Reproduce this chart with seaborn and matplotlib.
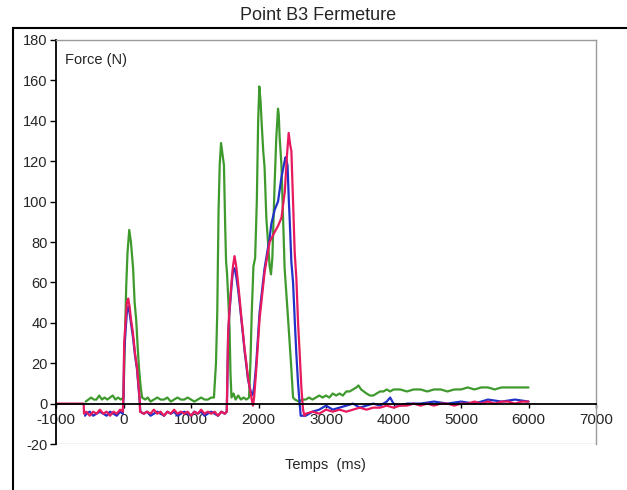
import numpy as np
import pandas as pd
import matplotlib
matplotlib.use("Agg")
import matplotlib.pyplot as plt
import seaborn as sns
from matplotlib.patches import Rectangle

sns.set_theme(style="white")
plt.rcParams['font.family'] = ['Liberation Sans', 'DejaVu Sans']

title = "Point B3 Fermeture"
x_label = "Temps  (ms)"
y_label = "Force (N)"
x_ticks = [-1000, 0, 1000, 2000, 3000, 4000, 5000, 6000, 7000]
y_ticks = [-20, 0, 20, 40, 60, 80, 100, 120, 140, 160, 180]

green_t = [-560, -520, -480, -440, -400, -360, -320, -280, -240, -200, -160, -120, -80, -40, 0,
           20, 40, 60, 85, 110, 142, 165, 187, 210, 231, 255, 276,
           320, 360, 400, 450, 500, 550, 600, 650, 700, 750, 800, 850, 900, 950, 1000, 1050,
           1100, 1150, 1200, 1250, 1300, 1340,
           1370, 1389, 1408, 1425, 1445, 1465, 1488, 1507, 1520, 1533, 1555, 1571, 1585, 1600,
           1630, 1660, 1700, 1740, 1780, 1820, 1860,
           1880, 1900, 1925, 1950, 1975, 1995, 2012, 2030, 2045, 2070, 2090, 2116, 2140, 2165,
           2185, 2205, 2239, 2264, 2289, 2300, 2313, 2340, 2387, 2438, 2487, 2512,
           2540, 2600, 2650, 2700, 2750, 2800, 2850, 2900, 2950, 3000, 3050, 3100, 3150, 3200,
           3250, 3300, 3350, 3400, 3450, 3480, 3520, 3560, 3600, 3650, 3700, 3750, 3800, 3850,
           3900, 3950, 4000, 4100, 4200, 4300, 4400, 4500, 4600, 4700, 4800, 4900, 5000, 5100,
           5200, 5300, 5400, 5500, 5600, 5700, 5800, 5900, 6000]
green_v = [1, 2, 3, 2, 2, 4, 2, 3, 2, 3, 4, 2, 3, 2, 3,
           30, 58, 75, 86, 80, 67, 50, 42, 28, 17, 8, 3,
           2, 3, 1, 2, 3, 2, 2, 3, 1, 2, 3, 2, 2, 3, 2, 1,
           2, 3, 2, 2, 3, 3,
           20, 45, 95, 118, 129, 124, 118, 87, 70, 65, 50, 37, 15, 3,
           5, 2, 4, 2, 3, 2, 3,
           20, 45, 68, 72, 100, 140, 157, 150, 140, 125, 117, 92, 80, 68,
           64, 72, 109, 132, 146, 143, 132, 118, 67, 42, 17, 3,
           2, 1, 2, 2, 3, 2, 3, 4, 3, 4, 3, 5, 4, 5,
           4, 6, 6, 7, 8, 9, 7, 6, 5, 4, 4, 5, 6, 6,
           7, 6, 7, 7, 6, 7, 7, 6, 7, 7, 6, 7, 7, 8,
           7, 8, 8, 7, 8, 8, 8, 8, 8]

blue_t = [-570, -550, -500, -450, -400, -350, -300, -250, -200, -150, -100, -50, -10,
          0, 10, 30, 50, 70, 90, 110, 140, 170, 200, 225, 240, 250,
          300, 350, 400, 450, 500, 550, 600, 650, 700, 750, 800, 850, 900, 950, 1000,
          1050, 1100, 1150, 1200, 1250, 1300, 1350, 1400, 1450, 1500, 1530,
          1537, 1550, 1567, 1600, 1622, 1645, 1670, 1696, 1720, 1745, 1770, 1794, 1820, 1844,
          1870, 1900, 1918, 1935, 1967, 2016, 2090, 2165, 2190, 2240, 2289, 2340, 2387, 2402,
          2430, 2450, 2461, 2487, 2512, 2536, 2560, 2586, 2610, 2625,
          2700, 2800, 2900, 3000, 3100, 3200, 3300, 3400, 3500, 3600, 3700, 3800, 3900, 3950,
          4000, 4100, 4200, 4400, 4600, 4800, 5000, 5200, 5400, 5600, 5800, 6000]
blue_v = [-6, -5, -4, -6, -5, -4, -5, -6, -4, -5, -6, -4, -5,
          3, 25, 36, 45, 48, 45, 40, 33, 24, 17, 7, 1, -4,
          -5, -4, -6, -5, -4, -5, -6, -4, -5, -4, -6, -5, -4, -5, -6,
          -4, -5, -4, -6, -5, -4, -5, -6, -4, -5, -4,
          8, 33, 44, 58, 66, 67, 63, 57, 50, 42, 34, 26, 19, 12,
          8, 4, 5, 8, 20, 45, 67, 82, 89, 96, 100, 112, 120, 122,
          118, 100, 92, 70, 60, 42, 25, 10, 0, -6,
          -6, -4, -3, -1, -3, -2, -1, 0, -2, -1, 0, -1, 1, 3,
          0, -1, 0, 0, 1, 0, 1, 0, 2, 1, 2, 1]

red_t = [-1000, -590, -585, -550, -500, -450, -400, -350, -300, -250, -200, -150, -100, -50, -10,
         0, 10, 30, 50, 70, 90, 110, 140, 170, 200, 225, 240, 245,
         300, 350, 400, 450, 500, 550, 600, 650, 700, 750, 800, 850, 900, 950, 1000,
         1050, 1100, 1150, 1200, 1250, 1300, 1350, 1400, 1450, 1500, 1530,
         1537, 1550, 1567, 1600, 1622, 1645, 1670, 1696, 1720, 1745, 1770, 1794, 1820, 1844,
         1870, 1900, 1918, 1935, 1967, 2016, 2090, 2165, 2240, 2290, 2340, 2390, 2420, 2447,
         2470, 2487, 2512, 2536, 2561, 2586, 2610, 2635, 2660, 2680,
         2700, 2800, 2900, 3000, 3100, 3200, 3300, 3400, 3500, 3600, 3700, 3800, 3900, 4000,
         4100, 4200, 4300, 4400, 4500, 4600, 4700, 4800, 4900, 5000, 5100, 5200, 5300, 5400,
         5500, 5600, 5700, 5800, 5900, 6000]
red_v = [0, 0, -5, -4, -6, -4, -5, -3, -5, -4, -6, -4, -5, -3, -4,
         5, 30, 40, 50, 52, 48, 42, 35, 25, 18, 8, 2, -4,
         -5, -4, -5, -3, -5, -4, -6, -4, -5, -3, -5, -4, -5, -4, -6,
         -4, -5, -3, -5, -4, -5, -4, -6, -4, -5, -4,
         10, 35, 45, 60, 68, 73, 68, 60, 52, 43, 35, 27, 20, 13,
         8, 2, -1, 3, 17, 42, 65, 80, 85, 88, 92, 105, 122, 134,
         128, 125, 100, 75, 62, 40, 25, 8, -3, -6,
         -5, -4, -5, -3, -4, -3, -4, -3, -2, -3, -2, -2, -1, -2,
         -1, -1, 0, -1, 0, -1, 0, 0, -1, 0, 0, 1, 0, 1,
         0, 1, 1, 0, 1, 1]

W, H = 627, 490
fig = plt.figure(figsize=(W / 100, H / 100), dpi=100)
fig.patch.set_facecolor('white')

ax_l, ax_r, ax_t, ax_b = 56, 596, 40, 444
ax = fig.add_axes([ax_l / W, 1 - ax_b / H, (ax_r - ax_l) / W, (ax_b - ax_t) / H])
ax.set_facecolor('white')

lw = 1.6
sns.lineplot(x=green_t, y=green_v, color='#3f9a2e', lw=lw, ax=ax, sort=False, estimator=None)
sns.lineplot(x=blue_t, y=blue_v, color='#2232c8', lw=lw, ax=ax, sort=False, estimator=None)
sns.lineplot(x=red_t, y=red_v, color='#e8195c', lw=lw, ax=ax, sort=False, estimator=None)

ax.set_xlim(-1000, 7000)
ax.set_ylim(-20, 180)
ax.set_xticks(x_ticks)
ax.set_yticks(y_ticks)
ax.set_xticklabels([str(v) for v in x_ticks], fontsize=10.5)
ax.set_yticklabels([str(v) for v in y_ticks], fontsize=10.5)

ax.spines['bottom'].set_position(('data', 0))
ax.spines['bottom'].set_color('black')
ax.spines['bottom'].set_linewidth(1.3)
ax.spines['left'].set_color('black')
ax.spines['left'].set_linewidth(1.3)
for s in ['top', 'right']:
    ax.spines[s].set_color('#9a9a9a')
    ax.spines[s].set_linewidth(1.0)
ax.axhline(-20, color='#bdbdbd', lw=1.0, zorder=0)

ax.tick_params(axis='y', direction='out', length=4, width=1, color='black', pad=2, left=True)
ax.tick_params(axis='x', direction='out', length=3, width=1, color='black', pad=4, bottom=True)
ax.set_xlabel('')
ax.set_ylabel('')

ax.text(-870, 170, y_label, fontsize=10.5, ha='left', va='center')
fig.text(325 / W, 1 - 465 / H, x_label, fontsize=10.5, ha='center', va='center')
fig.text(318 / W, 1 - 15 / H, title, fontsize=13, ha='center', va='center')

fig.patches.append(Rectangle((13 / W, -0.05), 1.2, 1 - 28 / H + 0.05, transform=fig.transFigure,
                             fill=False, edgecolor='black', lw=1.5))

fig.savefig('out.png', dpi=100)
